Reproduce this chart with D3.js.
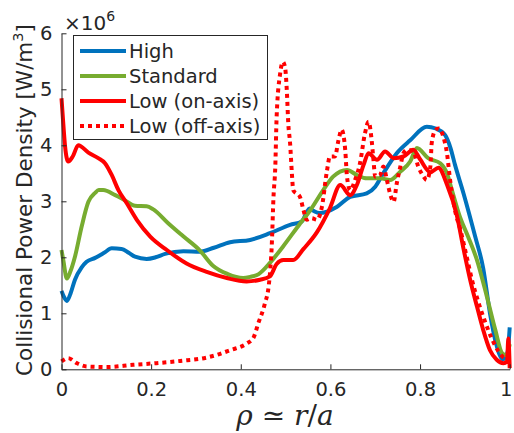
<!DOCTYPE html>
<html>
<head>
<meta charset="utf-8">
<script src="https://cdn.jsdelivr.net/npm/d3@7"></script>
<style>
  html, body { margin: 0; padding: 0; background: #fff; }
  svg { display: block; }
  text { font-family: "DejaVu Sans", sans-serif; fill: #262626; }
</style>
</head>
<body>
<svg id="chart" width="514" height="433"></svg>
<script>
// Collisional power density profiles, units of 1e6 W/m^3, vs normalised radius rho
const xTicks = [0, 0.2, 0.4, 0.6, 0.8, 1];
const xTickLabels = ["0", "0.2", "0.4", "0.6", "0.8", "1"];
const yTicks = [0, 1, 2, 3, 4, 5, 6];
const yTickLabels = ["0", "1", "2", "3", "4", "5", "6"];

const seriesNames = ["High", "Standard", "Low (on-axis)", "Low (off-axis)"];

const highProfile = [
  [0,1.40],[0.005,1.30],[0.012,1.22],[0.02,1.35],[0.03,1.6],[0.045,1.82],[0.056,1.92],[0.075,1.99],
  [0.095,2.08],[0.112,2.16],[0.134,2.15],[0.15,2.08],[0.164,2.01],[0.19,1.97],[0.21,2.0],[0.231,2.06],
  [0.272,2.11],[0.309,2.10],[0.34,2.17],[0.376,2.27],[0.421,2.31],[0.465,2.43],[0.51,2.58],[0.536,2.64],
  [0.547,2.80],[0.553,2.87],[0.562,2.83],[0.575,2.79],[0.614,2.90],[0.644,3.08],[0.681,3.14],[0.70,3.26],
  [0.718,3.50],[0.748,3.86],[0.778,4.09],[0.815,4.33],[0.835,4.30],[0.856,4.18],[0.868,3.95],[0.878,3.65],
  [0.897,3.14],[0.923,2.37],[0.941,1.80],[0.956,1.00],[0.97,0.45],[0.985,0.18],[0.995,0.30],[1.0,0.75]
];
const standardProfile = [
  [0,2.13],[0.004,1.95],[0.012,1.62],[0.02,1.75],[0.03,2.01],[0.045,2.55],[0.06,2.99],[0.075,3.15],
  [0.083,3.20],[0.093,3.20],[0.12,3.11],[0.141,3.02],[0.164,2.92],[0.19,2.91],[0.204,2.86],[0.238,2.61],
  [0.271,2.38],[0.309,2.12],[0.338,1.85],[0.371,1.70],[0.405,1.63],[0.421,1.65],[0.44,1.70],[0.465,1.90],
  [0.494,2.19],[0.532,2.60],[0.555,2.84],[0.584,3.20],[0.606,3.44],[0.637,3.56],[0.659,3.47],[0.681,3.41],
  [0.711,3.41],[0.733,3.38],[0.756,3.53],[0.778,3.71],[0.793,3.95],[0.818,3.77],[0.845,3.68],[0.86,3.50],
  [0.871,3.20],[0.889,2.72],[0.907,2.37],[0.927,1.95],[0.949,1.30],[0.968,0.70],[0.983,0.29],[0.993,0.25],
  [1.0,0.45]
];
const lowOnAxisProfile = [
  [0,4.84],[0.003,4.5],[0.008,3.98],[0.015,3.71],[0.025,3.80],[0.0375,4.0],[0.06,3.87],[0.082,3.77],
  [0.097,3.68],[0.112,3.47],[0.127,3.20],[0.146,2.96],[0.168,2.67],[0.198,2.37],[0.235,2.13],[0.279,1.89],
  [0.324,1.74],[0.369,1.63],[0.413,1.57],[0.443,1.60],[0.465,1.66],[0.48,1.88],[0.495,1.95],[0.517,1.95],
  [0.54,2.15],[0.57,2.45],[0.599,2.88],[0.622,3.29],[0.644,3.11],[0.659,3.29],[0.674,3.65],[0.685,3.86],
  [0.704,3.74],[0.722,3.89],[0.741,3.77],[0.763,3.80],[0.785,3.92],[0.80,3.75],[0.823,3.52],[0.841,3.60],
  [0.86,3.30],[0.882,2.75],[0.897,2.15],[0.912,1.59],[0.927,1.12],[0.941,0.70],[0.956,0.34],[0.971,0.17],
  [0.986,0.11],[0.994,0.14],[0.997,0.55],[1.0,0.02]
];
const lowOffAxisProfile = [
  [0,0.14],[0.015,0.20],[0.034,0.11],[0.056,0.05],[0.10,0.04],[0.16,0.08],[0.212,0.11],[0.265,0.15],
  [0.324,0.21],[0.376,0.34],[0.413,0.46],[0.428,0.56],[0.439,0.82],[0.454,1.18],[0.462,1.47],[0.466,1.80],
  [0.469,2.19],[0.473,3.08],[0.477,3.62],[0.48,4.51],[0.488,5.29],[0.494,5.49],[0.499,5.38],[0.503,4.93],
  [0.506,4.39],[0.51,4.04],[0.514,3.50],[0.517,3.20],[0.532,3.08],[0.54,2.84],[0.547,2.67],[0.558,2.70],
  [0.57,2.67],[0.581,2.90],[0.592,3.53],[0.599,3.80],[0.61,3.80],[0.618,4.09],[0.625,4.28],[0.633,3.92],
  [0.637,3.44],[0.644,3.20],[0.655,3.38],[0.666,3.68],[0.677,4.21],[0.685,4.42],[0.692,4.09],[0.696,3.74],
  [0.70,3.44],[0.711,3.47],[0.718,3.62],[0.726,3.38],[0.733,3.14],[0.741,2.99],[0.748,3.32],[0.756,3.62],
  [0.763,3.86],[0.771,3.92],[0.785,3.89],[0.796,3.62],[0.808,3.44],[0.815,3.38],[0.823,3.62],[0.826,4.04],
  [0.834,4.27],[0.841,4.30],[0.852,4.15],[0.86,3.86],[0.867,3.38],[0.878,2.84],[0.89,2.49],[0.904,2.01],
  [0.916,1.59],[0.93,1.20],[0.945,0.85],[0.96,0.55],[0.975,0.32],[0.99,0.20],[1.0,0.30]
];

const profiles = [highProfile, standardProfile, lowOnAxisProfile, lowOffAxisProfile];
const colors = ["#0072BD", "#77AC30", "#FF0000", "#FF0000"];
const dashes = [null, null, null, "4,4"];

const svg = d3.select("#chart");
const plot = { left: 61.5, right: 509.7, top: 33.3, bottom: 369.3 };

const x = d3.scaleLinear().domain([0, 1]).range([plot.left, plot.right]);
const y = d3.scaleLinear().domain([0, 6]).range([plot.bottom, plot.top]);

svg.append("clipPath").attr("id", "plotClip")
  .append("rect")
  .attr("x", plot.left - 3).attr("y", plot.top - 3)
  .attr("width", plot.right - plot.left + 6).attr("height", plot.bottom - plot.top + 6);

// curves
const line = d3.line().x(d => x(d[0])).y(d => y(d[1])).curve(d3.curveMonotoneX);
const curves = svg.append("g").attr("clip-path", "url(#plotClip)");
profiles.forEach((p, i) => {
  curves.append("path")
    .datum(p)
    .attr("d", line)
    .attr("fill", "none")
    .attr("stroke", colors[i])
    .attr("stroke-width", 4)
    .attr("stroke-linejoin", "round")
    .attr("stroke-dasharray", dashes[i]);
});

// axes (ticks pointing inward)
const xAxis = d3.axisBottom(x).tickValues(xTicks)
  .tickFormat((d, i) => xTickLabels[i]).tickSizeInner(-5).tickSizeOuter(0).tickPadding(13);
const yAxis = d3.axisLeft(y).tickValues(yTicks)
  .tickFormat((d, i) => yTickLabels[i]).tickSizeInner(-5).tickSizeOuter(0).tickPadding(9);

const gx = svg.append("g").attr("transform", `translate(0,${plot.bottom})`).call(xAxis);
const gy = svg.append("g").attr("transform", `translate(${plot.left},0)`).call(yAxis);
[gx, gy].forEach(g => {
  g.select(".domain").attr("stroke", "#262626").attr("stroke-width", 1);
  g.selectAll(".tick line").attr("stroke", "#262626");
  g.selectAll(".tick text").attr("font-size", 19.5).attr("fill", "#262626")
    .attr("font-family", "DejaVu Sans, sans-serif");
});
// keep the last x label inside the canvas
gx.selectAll(".tick text").filter(d => d === 1).attr("text-anchor", "end").attr("dx", "0.12em");

// exponent marker
const expo = svg.append("text").attr("x", 64).attr("y", 30).attr("font-size", 20);
expo.append("tspan").text("×10");
expo.append("tspan").attr("dy", -9).attr("font-size", 14).text("6");

// y axis label
const ylab = svg.append("text")
  .attr("transform", "translate(32,200) rotate(-90)")
  .attr("text-anchor", "middle")
  .attr("font-size", 21.5);
ylab.append("tspan").text("Collisional Power Density [W/m");
ylab.append("tspan").attr("dy", -9).attr("font-size", 14.5).text("3");
ylab.append("tspan").attr("dy", 9).text("]");

// x axis label
const xlab = svg.append("text")
  .attr("x", 285).attr("y", 425)
  .attr("text-anchor", "middle")
  .attr("font-size", 28)
  .style("font-family", "'DejaVu Serif', serif");
xlab.append("tspan").attr("font-style", "italic").text("ρ");
xlab.append("tspan").text(" ≃ ");
xlab.append("tspan").attr("font-style", "italic").text("r");
xlab.append("tspan").text("/");
xlab.append("tspan").attr("font-style", "italic").text("a");

// legend
const legend = svg.append("g");
legend.append("rect")
  .attr("x", 73.5).attr("y", 35.5).attr("width", 194).attr("height", 104)
  .attr("fill", "#fff").attr("stroke", "#262626").attr("stroke-width", 1);
const rowY = [51, 76, 101, 126];
seriesNames.forEach((name, i) => {
  legend.append("line")
    .attr("x1", 80).attr("x2", 126).attr("y1", rowY[i]).attr("y2", rowY[i])
    .attr("stroke", colors[i]).attr("stroke-width", 4)
    .attr("stroke-dasharray", dashes[i]);
  legend.append("text")
    .attr("x", 129).attr("y", rowY[i]).attr("dy", "0.36em")
    .attr("font-size", 19.5).text(name);
});
</script>
</body>
</html>
